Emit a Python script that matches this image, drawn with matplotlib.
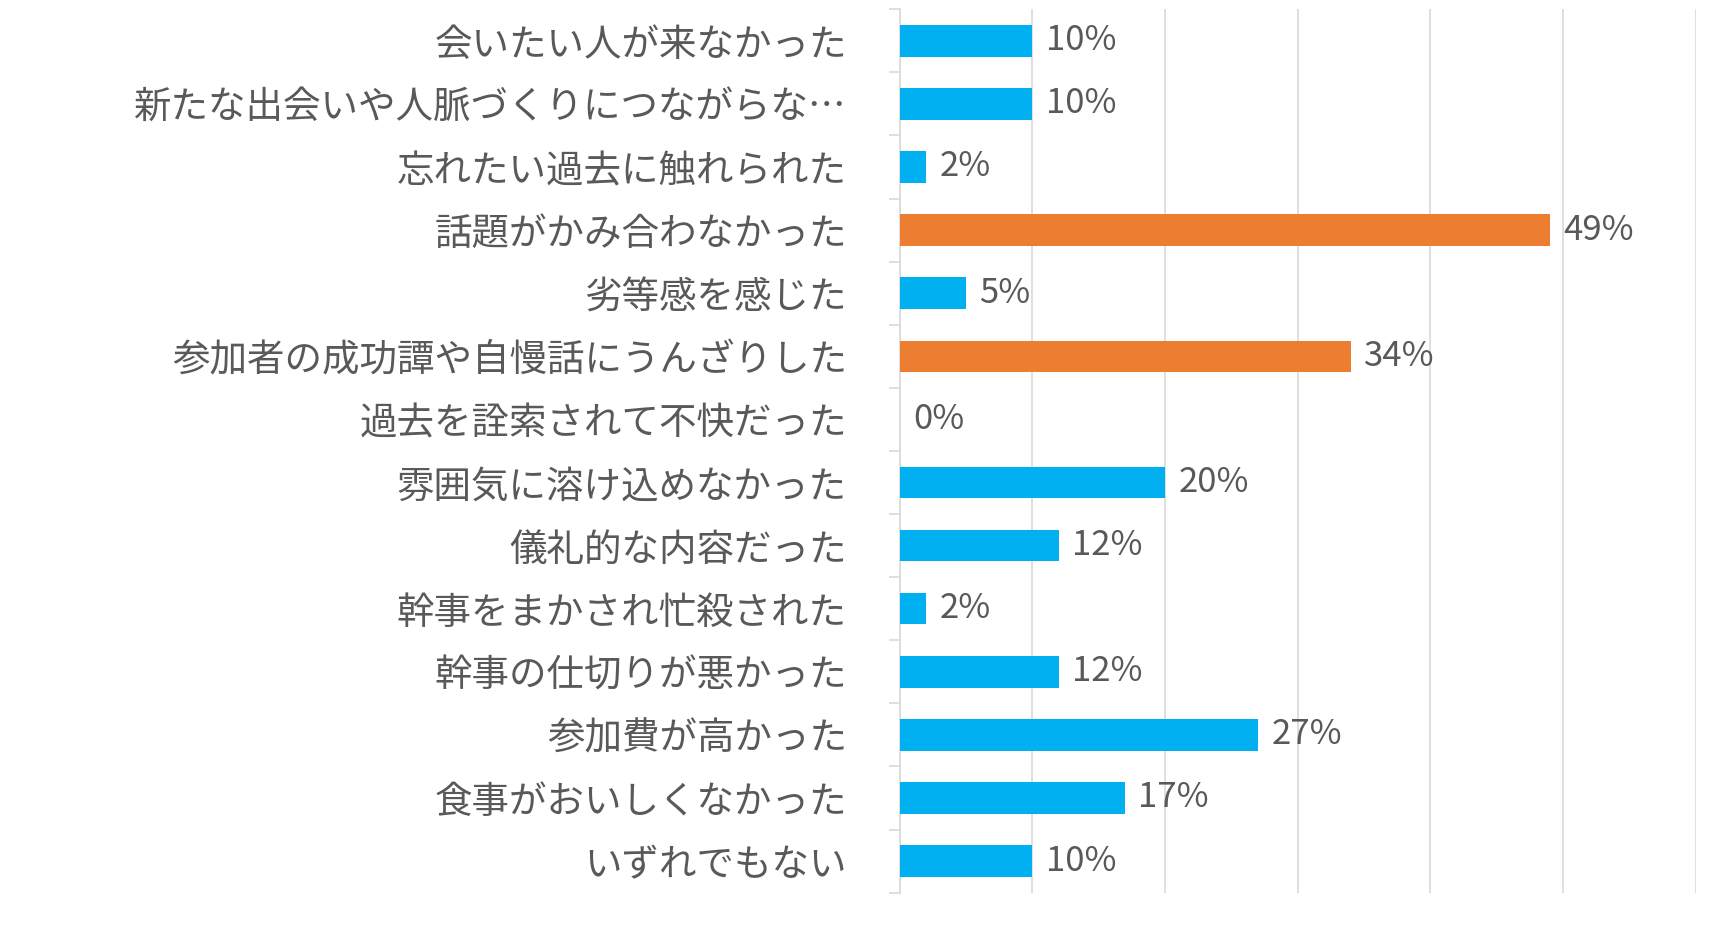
import matplotlib
matplotlib.use("Agg")
import matplotlib.pyplot as plt

plt.rcParams['font.family'] = ['Noto Sans CJK JP', 'DejaVu Sans']

labels = ["会いたい人が来なかった", "新たな出会いや人脈づくりにつながらな…", "忘れたい過去に触れられた",
          "話題がかみ合わなかった", "劣等感を感じた", "参加者の成功譚や自慢話にうんざりした",
          "過去を詮索されて不快だった", "雰囲気に溶け込めなかった", "儀礼的な内容だった",
          "幹事をまかされ忙殺された", "幹事の仕切りが悪かった", "参加費が高かった",
          "食事がおいしくなかった", "いずれでもない"]
values = [10, 10, 2, 49, 5, 34, 0, 20, 12, 2, 12, 27, 17, 10]
highlight = [3, 5]

blue = "#00B0F0"
orange = "#ED7D31"
grey = "#595959"

def main():
    fig = plt.figure(figsize=(17.2, 9.25), dpi=100)
    ax = fig.add_axes([0.523, 0.035, 0.463, 0.955])
    n = len(labels)
    ys = list(range(n))
    colors = [orange if i in highlight else blue for i in range(n)]
    ax.barh(ys, values, height=0.5, color=colors, zorder=3)
    for y, v in zip(ys, values):
        ax.text(v + 1, y, f"{v}%", va='center', ha='left', fontsize=25, color=grey)
    ax.set_ylim(n - 0.5, -0.5)
    ax.set_xlim(0, 60)
    ax.set_xticks(range(0, 61, 10))
    ax.set_xticklabels([])
    ax.tick_params(axis='x', length=0)
    ax.xaxis.grid(True, color="#D9D9D9", linewidth=1.2, zorder=0)
    ax.set_yticks(ys)
    ax.set_yticklabels(labels, fontsize=27, color=grey)
    ax.tick_params(axis='y', length=0, pad=38)
    ax.set_yticks([y + 0.5 for y in range(-1, n)], minor=True)
    ax.tick_params(axis='y', which='minor', length=8, color="#D9D9D9", width=1.2)
    for s in ['top', 'right', 'bottom']:
        ax.spines[s].set_visible(False)
    ax.spines['left'].set_color("#D9D9D9")
    ax.spines['left'].set_linewidth(1.2)
    fig.savefig("out.png")

if __name__ == "__main__":
    main()
